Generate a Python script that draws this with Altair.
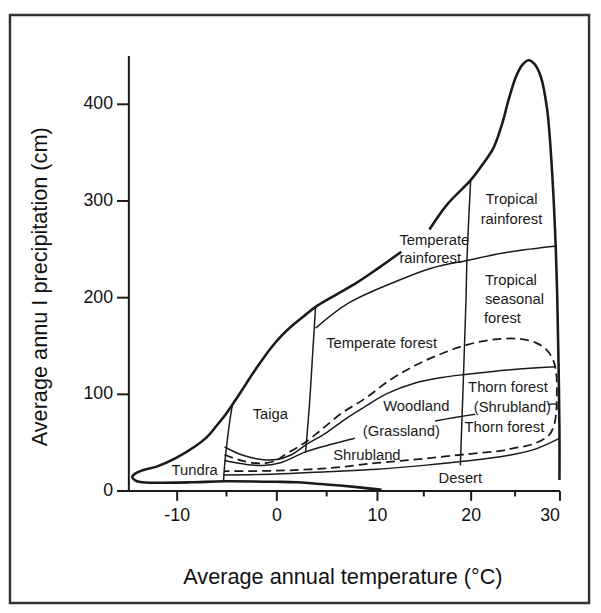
import altair as alt
import pandas as pd

# ---------------- axis ticks ----------------
x_ticks = [-10, 0, 10, 20, 30]
x_minor = [-5, 5, 15, 25]
y_ticks = [0, 100, 200, 300, 400]

# ---------------- outer envelope (thick) ----------------
# bottom edge -> tundra tip -> upper edge up to the label gap
env1_t = [10.5, 8.5, 5.3, 2.0, 0.0, -5.2, -8.6, -12.5, -13.6, -14.3, -14.6, -14.3, -13.5,
          -12.0, -10.0, -8.1, -7.0, -6.0, -5.0, -4.4, -3.5, -2.5, -1.5, -0.5, 0.5, 1.5,
          2.7, 3.9, 6.0, 8.0, 10.0, 12.6]
env1_p = [0.8, 3, 6, 8.5, 9, 9.5, 8.5, 8, 8.5, 10.5, 14, 17.5, 21,
          25, 34, 46, 55, 67, 80, 89, 103, 119, 134, 148, 160, 170,
          180, 190, 203, 215, 229, 247]
# upper edge after the gap -> peak -> right side
env2_t = [15.6, 17.5, 20.0, 21.4, 22.6, 23.5, 24.3, 25.1, 25.8, 26.5, 27.2, 27.9, 28.6,
          29.1, 29.5, 29.75, 29.9, 30.0, 30.0]
env2_p = [270, 296, 321, 338, 355, 378, 405, 428, 440, 445, 441, 428, 395,
          340, 270, 200, 130, 60, 11]

# ---------------- inner boundaries (thin) ----------------
tundra_taiga_t = [-4.4, -4.7, -5.0, -5.2, -5.3]
tundra_taiga_p = [89, 70, 45, 25, 9.5]

taiga_forest_t = [3.9, 3.6, 3.3, 2.9]
taiga_forest_p = [190, 140, 90, 39]

tropical_t = [20.0, 19.6, 19.5, 18.9]
tropical_p = [321, 238, 197, 26]

rainforest_t = [3.9, 7.2, 12.2, 15.8, 19.6, 24.5, 29.7]
rainforest_p = [168, 194, 217, 230, 238, 247, 253]

forest_wood_t = [-5.2, -3.5, -1.5, 0.0, 1.5, 2.9, 5.0, 7.0, 9.0, 11.0, 14.0, 17.0, 19.4, 24.5, 29.6]
forest_wood_p = [45, 37, 32, 32, 37, 47, 60, 75, 88, 100, 111, 117, 120, 125, 128]

wood_shrub_a_t = [-5.2, -3.0, -1.3, 0.5, 2.9, 5.2, 7.8]
wood_shrub_a_p = [31, 27, 26, 29, 40, 47, 54]
wood_shrub_b_t = [16.2, 18.3, 20.5]
wood_shrub_b_p = [72, 75.5, 79]

desert_t = [-5.3, 0.0, 5.0, 10.0, 15.0, 20.0, 24.0, 27.0, 30.0]
desert_p = [16, 17, 19.5, 22, 26, 31, 36, 42, 54]

bracket_t = [28.7, 29.65, 29.65]
bracket_p = [89, 89, 83]

# ---------------- dashed boundary ----------------
dash_t = [-5.2, -3.5, -1.5, 0.0, 0.7, 2.9, 4.6, 6.5, 8.8, 11.2, 14.0, 17.0, 19.7, 22.5, 25.3,
          27.3, 28.5, 29.3, 29.65, 29.7, 29.65, 29.4, 28.8, 27.0, 25.0, 23.3, 20.0, 15.0,
          10.0, 5.0, 0.0, -5.2]
dash_p = [37, 31, 28, 31, 36, 50, 64, 80, 95, 113, 129, 142, 151, 156, 157,
          153, 146, 135, 120, 100, 82, 68, 57, 48, 44, 41, 38, 33,
          28.5, 23, 20.5, 20]

# ---------------- region labels ----------------
label_text = ["Tropical", "rainforest", "Temperate forest", "Taiga", "Tundra", "Woodland",
              "(Grassland)", "Shrubland", "Desert", "Thorn forest", "(Shrubland)", "Thorn forest"]
label_t = [24.6, 24.6, 10.5, -0.6, -8.2, 14.2, 12.6, 9.0, 18.9, 24.2, 24.7, 23.8]
label_p = [301, 281, 153, 79, 21, 87, 62, 37, 13, 107, 86, 66]

left_text = ["Tropical", "seasonal", "forest", "Temperate", "rainforest"]
left_t = [21.6, 21.6, 21.5, 12.4, 12.4]
left_p = [218, 198, 178, 259, 240]

# ---------------- build tables ----------------
rows = []


def add(name, kind, ts, ps):
    for i, (t, p) in enumerate(zip(ts, ps)):
        rows.append({"line": name, "kind": kind, "i": i, "t": t, "p": p})


add("env1", "thick", env1_t, env1_p)
add("env2", "thick", env2_t, env2_p)
add("tundra_taiga", "thin", tundra_taiga_t, tundra_taiga_p)
add("taiga_forest", "thin", taiga_forest_t, taiga_forest_p)
add("tropical", "thin", tropical_t, tropical_p)
add("rainforest", "thin", rainforest_t, rainforest_p)
add("forest_wood", "thin", forest_wood_t, forest_wood_p)
add("wood_shrub_a", "thin", wood_shrub_a_t, wood_shrub_a_p)
add("wood_shrub_b", "thin", wood_shrub_b_t, wood_shrub_b_p)
add("desert", "thin", desert_t, desert_p)
add("bracket", "thin", bracket_t, bracket_p)
add("dash", "dash", dash_t, dash_p)
lines = pd.DataFrame(rows)

labels = pd.DataFrame({"text": label_text, "t": label_t, "p": label_p})
labels_left = pd.DataFrame({"text": left_text, "t": left_t, "p": left_p})

FONT = "Liberation Sans"
INK = "#1a1a1a"

xs = alt.Scale(domain=[-15, -10, 0, 10, 20, 30], range=[0, 49, 150, 252, 347, 437],
               nice=False, zero=False)
ys = alt.Scale(domain=[0, 450], nice=False, zero=True)

xaxis = alt.Axis(values=x_ticks, labelExpr="'' + datum.value", grid=False,
                 tickSize=10, tickWidth=2, tickColor=INK, domainColor=INK, domainWidth=2,
                 labelFont=FONT, labelFontSize=18, labelColor="#111", labelPadding=6,
                 title="Average annual temperature (°C)", titleFont=FONT, titleFontSize=22,
                 titleFontWeight="normal", titleColor="#111", titleX=217, titleY=94,
                 titleBaseline="alphabetic", titleAlign="center")
yaxis = alt.Axis(values=y_ticks, labelExpr="'' + datum.value", grid=False,
                 tickSize=12, tickWidth=2, tickColor=INK, domainColor=INK, domainWidth=2,
                 labelFont=FONT, labelFontSize=18, labelColor="#111", labelPadding=4,
                 title="Average annu I precipitation (cm)", titleFont=FONT, titleFontSize=22,
                 titleFontWeight="normal", titleColor="#111", titleX=-83, titleY=234,
                 titleAngle=270, titleBaseline="alphabetic", titleAlign="center")


def X():
    return alt.X("t:Q", scale=xs, axis=xaxis)


def Y():
    return alt.Y("p:Q", scale=ys, axis=yaxis)


border = alt.Chart(pd.DataFrame({"a": [0]})).mark_rect(
    filled=False, stroke="#333", strokeWidth=2.5
).encode(x=alt.value(-120), x2=alt.value(467), y=alt.value(-41), y2=alt.value(555))

base = alt.Chart(lines)
thick = base.transform_filter(alt.datum.kind == "thick").mark_line(
    color=INK, strokeWidth=2.6, interpolate="catmull-rom"
).encode(x=X(), y=Y(), detail="line:N", order="i:Q")
thin = base.transform_filter(alt.datum.kind == "thin").mark_line(
    color=INK, strokeWidth=1.5, interpolate="catmull-rom"
).encode(x=X(), y=Y(), detail="line:N", order="i:Q")
dashed = base.transform_filter(alt.datum.kind == "dash").mark_line(
    color=INK, strokeWidth=1.8, strokeDash=[9, 5], interpolate="catmull-rom"
).encode(x=X(), y=Y(), detail="line:N", order="i:Q")

minor = alt.Chart(pd.DataFrame({"t": x_minor})).mark_rule(
    color=INK, strokeWidth=2
).encode(x=X(), y=alt.value(441), y2=alt.value(447))

text_c = alt.Chart(labels).mark_text(
    font=FONT, fontSize=15, color=INK, align="center", baseline="middle"
).encode(x=X(), y=Y(), text="text:N")
text_l = alt.Chart(labels_left).mark_text(
    font=FONT, fontSize=15, color=INK, align="left", baseline="middle"
).encode(x=X(), y=Y(), text="text:N")

chart = alt.layer(border, thick, thin, dashed, minor, text_c, text_l).properties(
    width=437, height=441,
    padding={"left": 122, "top": 44, "right": 34, "bottom": 118},
    autosize=alt.AutoSizeParams(type="none"),
    background="white",
).configure_view(strokeWidth=0)

chart.save("out.html", embed_options={"renderer": "svg", "actions": False})
